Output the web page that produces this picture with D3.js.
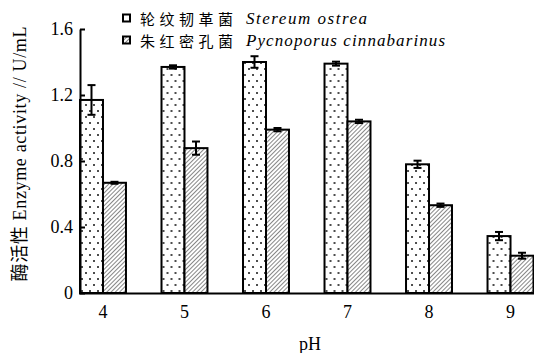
<!DOCTYPE html>
<html>
<head>
<meta charset="utf-8">
<script src="https://cdn.jsdelivr.net/npm/d3@7"></script>
<style>
    body { margin: 0; background: #fff; }
    svg { display: block; }
    .axis text { font-family: "Liberation Serif", serif; font-size: 18px; fill: #000; }
    .axis path, .axis line { stroke: #000; stroke-width: 2; }
</style>
</head>
<body>
<div id="chart"></div>
<script>

var phLevels = ["4", "5", "6", "7", "8", "9"];
var stereumValues = [1.17, 1.37, 1.40, 1.39, 0.78, 0.345];
var stereumErrors = [0.09, 0.01, 0.035, 0.012, 0.022, 0.025];
var pycnoValues = [0.668, 0.878, 0.99, 1.04, 0.532, 0.226];
var pycnoErrors = [0.006, 0.04, 0.01, 0.01, 0.01, 0.018];
var yTicks = [0, 0.4, 0.8, 1.2, 1.6];
var seriesNames = [
    { cn: "轮纹韧革菌", latin: "Stereum ostrea", fill: "url(#dots)" },
    { cn: "朱红密孔菌", latin: "Pycnoporus cinnabarinus", fill: "url(#hatch)" }
];

var width = 534, height = 353;

var svg = d3.select("#chart").append("svg")
    .attr("width", width)
    .attr("height", height);

// patterns
var defs = svg.append("defs");
var dots = defs.append("pattern")
    .attr("id", "dots")
    .attr("patternUnits", "userSpaceOnUse")
    .attr("width", 8).attr("height", 12);
dots.append("rect").attr("width", 8).attr("height", 12).attr("fill", "#fff");
dots.append("circle").attr("cx", 2).attr("cy", 3).attr("r", 1).attr("fill", "#111");
dots.append("circle").attr("cx", 6).attr("cy", 9).attr("r", 1).attr("fill", "#111");

var hatch = defs.append("pattern")
    .attr("id", "hatch")
    .attr("patternUnits", "userSpaceOnUse")
    .attr("width", 3).attr("height", 3)
    .attr("patternTransform", "rotate(45)");
hatch.append("rect").attr("width", 3).attr("height", 3).attr("fill", "#fff");
hatch.append("line")
    .attr("x1", 0).attr("y1", 0).attr("x2", 0).attr("y2", 3)
    .attr("stroke", "#222").attr("stroke-width", 1.1);

// scales
var xScale = d3.scaleBand()
    .domain(phLevels)
    .range([80, 533.5])
    .paddingInner(0.436)
    .paddingOuter(0);

var xSub = d3.scaleBand()
    .domain([0, 1])
    .range([0, xScale.bandwidth()]);

var yScale = d3.scaleLinear()
    .domain([0, 1.6])
    .range([293, 29]);

var data = phLevels.map(function (p, i) {
    return [
        { ph: p, s: 0, v: stereumValues[i], e: stereumErrors[i] },
        { ph: p, s: 1, v: pycnoValues[i], e: pycnoErrors[i] }
    ];
});

// bars
var groups = svg.append("g").selectAll("g")
    .data(data)
    .enter().append("g")
    .attr("transform", function (d) { return "translate(" + xScale(d[0].ph) + ",0)"; });

groups.selectAll("rect")
    .data(function (d) { return d; })
    .enter().append("rect")
    .attr("x", function (d) { return xSub(d.s); })
    .attr("y", function (d) { return yScale(d.v); })
    .attr("width", xSub.bandwidth())
    .attr("height", function (d) { return yScale(0) - yScale(d.v); })
    .attr("fill", function (d) { return seriesNames[d.s].fill; })
    .attr("stroke", "#000")
    .attr("stroke-width", 2);

// error bars
var err = groups.selectAll("g.err")
    .data(function (d) { return d; })
    .enter().append("g")
    .attr("class", "err")
    .attr("stroke", "#000")
    .attr("stroke-width", 2);

err.append("line")
    .attr("x1", function (d) { return xSub(d.s) + xSub.bandwidth() / 2; })
    .attr("x2", function (d) { return xSub(d.s) + xSub.bandwidth() / 2; })
    .attr("y1", function (d) { return yScale(d.v + d.e); })
    .attr("y2", function (d) { return yScale(d.v - d.e); });
err.append("line")
    .attr("x1", function (d) { return xSub(d.s) + xSub.bandwidth() / 2 - 4; })
    .attr("x2", function (d) { return xSub(d.s) + xSub.bandwidth() / 2 + 4; })
    .attr("y1", function (d) { return yScale(d.v + d.e); })
    .attr("y2", function (d) { return yScale(d.v + d.e); });
err.append("line")
    .attr("x1", function (d) { return xSub(d.s) + xSub.bandwidth() / 2 - 4; })
    .attr("x2", function (d) { return xSub(d.s) + xSub.bandwidth() / 2 + 4; })
    .attr("y1", function (d) { return yScale(d.v - d.e); })
    .attr("y2", function (d) { return yScale(d.v - d.e); });

// axes
var yAxis = d3.axisLeft(yScale)
    .tickValues(yTicks)
    .tickSizeInner(-5)
    .tickSizeOuter(0)
    .tickPadding(7)
    .tickFormat(function (d) { return d === 0 ? "0" : d3.format(".1f")(d); });

svg.append("g")
    .attr("class", "axis y")
    .attr("transform", "translate(80,0)")
    .call(yAxis);

var xAxis = d3.axisBottom(xScale)
    .tickSize(0)
    .tickPadding(12);

svg.append("g")
    .attr("class", "axis x")
    .attr("transform", "translate(0,293)")
    .call(xAxis)
    .select(".domain")
    .attr("d", "M79,0.5H534");

// axis titles
svg.append("text")
    .attr("x", 310)
    .attr("y", 350)
    .attr("text-anchor", "middle")
    .style("font-family", "'Liberation Serif', serif")
    .style("font-size", "18px")
    .text("pH");

svg.append("text")
    .attr("transform", "translate(20,154) rotate(-90)")
    .attr("text-anchor", "middle")
    .attr("dominant-baseline", "central")
    .attr("textLength", 255)
    .attr("lengthAdjust", "spacing")
    .style("font-family", "'Liberation Serif', 'Noto Sans CJK SC', serif")
    .style("font-size", "18px")
    .text("酶活性 Enzyme activity // U/mL");

// legend
var legend = svg.append("g").selectAll("g")
    .data(seriesNames)
    .enter().append("g")
    .attr("transform", function (d, i) { return "translate(0," + (18 + i * 22) + ")"; });

legend.append("rect")
    .attr("x", 123).attr("y", -3.5)
    .attr("width", 7).attr("height", 7)
    .attr("fill", function (d, i) { return i === 0 ? "#fff" : "url(#hatch)"; })
    .attr("stroke", "#000")
    .attr("stroke-width", 2);

legend.append("text")
    .attr("x", 140)
    .attr("dominant-baseline", "central")
    .style("font-family", "'Noto Sans CJK SC', sans-serif")
    .style("font-size", "15px")
    .attr("textLength", 93)
    .text(function (d) { return d.cn; });

legend.append("text")
    .attr("x", 246)
    .attr("dominant-baseline", "central")
    .style("font-family", "'Liberation Serif', serif")
    .style("font-style", "italic")
    .style("font-size", "17px")
    .attr("textLength", function (d, i) { return i === 0 ? 121 : 199; })
    .attr("lengthAdjust", "spacing")
    .text(function (d) { return d.latin; });

</script>
</body>
</html>
